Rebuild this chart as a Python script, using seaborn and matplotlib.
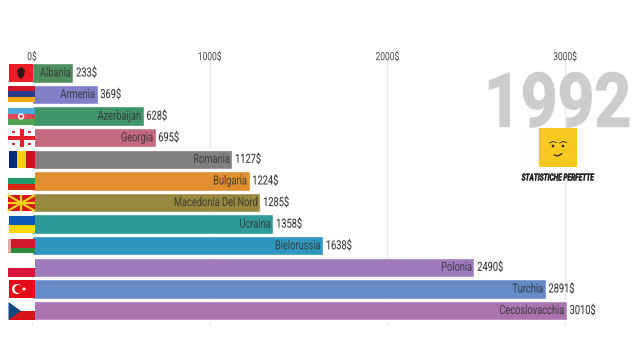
import matplotlib
matplotlib.use('Agg')
import matplotlib.pyplot as plt
from matplotlib.patches import Rectangle, Polygon, Circle
from matplotlib.patheffects import AbstractPathEffect
from matplotlib.transforms import Affine2D
import seaborn as sns
import pandas as pd

countries = ['Albania', 'Armenia', 'Azerbaijan', 'Georgia', 'Romania', 'Bulgaria',
             'Macedonia Del Nord', 'Ucraina', 'Bielorussia', 'Polonia', 'Turchia',
             'Cecoslovacchia']
gdp = [233, 369, 628, 695, 1127, 1224, 1285, 1358, 1638, 2490, 2891, 3010]
bar_colors = ['#4f8f5f', '#8080c8', '#3f9468', '#c2687f', '#808080', '#e08e30',
              '#96893f', '#2f9a9a', '#2f97bd', '#9e7bbd', '#648bc8', '#a974b0']
ticks = [0, 1000, 2000, 3000]
year = '1992'
caption = 'STATISTICHE PERFETTE'

sns.set_theme(style='white')
plt.rcParams['font.family'] = ['Roboto', 'DejaVu Sans']


# no condensed font installed, so squeeze the glyphs sideways around an anchor
class Squeeze(AbstractPathEffect):
    def __init__(self, sx, pivot, stroke=0):
        super().__init__()
        self.sx = sx
        self.pivot = pivot
        self.stroke = stroke

    def draw_path(self, renderer, gc, tpath, affine, rgbFace=None):
        squeezed = affine + Affine2D().translate(-self.pivot, 0).scale(self.sx, 1).translate(self.pivot, 0)
        gc0 = renderer.new_gc()
        gc0.copy_properties(gc)
        if self.stroke:
            gc0.set_linewidth(self.stroke)
            gc0.set_foreground(rgbFace)
        renderer.draw_path(gc0, tpath, squeezed, rgbFace)
        gc0.restore()


df = pd.DataFrame({'country': countries, 'gdp': gdp})

fig = plt.figure(figsize=(6.4, 3.6), dpi=100)
ax = fig.add_axes([32 / 640, 35 / 360, 608 / 640, 265 / 360])
sns.barplot(data=df, x='gdp', y='country', hue='country', palette=bar_colors,
            width=0.9, saturation=1, legend=False, ax=ax)

ax.set_xlim(0, 608 / 0.1777)
ax.set_ylim(11.67, -0.60)
ax.set_xlabel('')
ax.set_ylabel('')
ax.set_yticks([])
ax.set_xticks(ticks)
ax.set_xticklabels([f'{t}$' for t in ticks], fontsize=8, color='#444444')
ax.xaxis.tick_top()
ax.tick_params(axis='x', length=0, pad=-1.5)
ax.grid(axis='x', color='#e6e6e6', linewidth=0.8)
ax.set_axisbelow(True)
sns.despine(ax=ax, left=True, bottom=True, top=True, right=True)

for t, lab in zip(ticks, ax.get_xticklabels()):
    lab.set_path_effects([Squeeze(0.76, ax.transData.transform((t, 0))[0])])

# names inside the bars, values just after them
for i, (name, v) in enumerate(zip(countries, gdp)):
    end = ax.transData.transform((v, i))[0]
    ax.annotate(name, (v, i), xytext=(-1.7, 0), textcoords='offset points', ha='right',
                va='center', fontsize=9, color='#333333', alpha=0.8,
                path_effects=[Squeeze(0.74, end - 2.4, stroke=0.05)])
    ax.annotate(f'{v}$', (v, i), xytext=(2, 0), textcoords='offset points', ha='left',
                va='center', fontsize=9, color='#333333',
                path_effects=[Squeeze(0.74, end + 2.8, stroke=0.05)])

# overlay in pixel coordinates for flags, year and logo
ov = fig.add_axes([0, 0, 1, 1], facecolor='none')
ov.set_xlim(0, 640)
ov.set_ylim(360, 0)
ov.axis('off')


def bands(x0, x1, y0, y1, cols):
    h = (y1 - y0) / len(cols)
    for k, c in enumerate(cols):
        ov.add_patch(Rectangle((x0, y0 + k * h), x1 - x0, h, color=c, lw=0))


def vbands(x0, x1, y0, y1, cols):
    w = (x1 - x0) / len(cols)
    for k, c in enumerate(cols):
        ov.add_patch(Rectangle((x0 + k * w, y0), w, y1 - y0, color=c, lw=0))


# Albania
bands(9, 33, 64, 82, ['#ee1c25'])
ov.add_patch(Polygon([(21, 67), (25, 70), (24, 76), (21, 79), (18, 76), (17, 70)], color='#2a1a1a', lw=0))
# Armenia
bands(7.5, 35, 86, 102, ['#cf142b', '#2a3a8c', '#f2a800'])
# Azerbaijan
bands(7.5, 35, 108, 125, ['#4fa8d8', '#e0485a', '#4fa050'])
ov.add_patch(Circle((21, 116.5), 2.5, fill=False, ec='white', lw=1))
# Georgia
bands(8, 35, 129, 147, ['#ffffff'])
bands(8, 35, 136, 140, ['#e8202a'])
vbands(19.5, 23.5, 129, 147, ['#e8202a'])
for px, py in [(13, 132), (29, 132), (13, 144), (29, 144)]:
    ov.add_patch(Rectangle((px - 1.5, py - 1), 3, 2, color='#e8202a', lw=0))
# Romania
vbands(8.5, 35, 151, 168, ['#002b7f', '#fcd116', '#ce1126'])
# Bulgaria
bands(7.5, 35, 172, 190, ['#ffffff', '#1f9a6a', '#d62612'])
# North Macedonia
bands(7.5, 35, 195, 211, ['#d8141a'])
for a, b in [((7.5, 195), (35, 211)), ((35, 195), (7.5, 211)), ((7.5, 203), (35, 203)), ((21, 195), (21, 211))]:
    ov.plot([a[0], b[0]], [a[1], b[1]], color='#f8d020', lw=1.6, solid_capstyle='butt')
ov.add_patch(Circle((21, 203), 2.5, color='#f8d020', ec='#d8141a', lw=0.6))
# Ukraine
bands(8.5, 35, 216, 233, ['#0d57b7', '#ffd700'])
# Belarus
bands(7.5, 35, 239, 253, ['#d01c2a', '#d01c2a', '#2f8a3e'])
ov.add_patch(Rectangle((7.5, 239), 3, 14, color='#e8a8a8', lw=0))
# Poland
bands(7.5, 35, 258, 277, ['#ffffff', '#dc143c'])
# Turkey
bands(8.5, 35, 280, 298, ['#e30a17'])
ov.add_patch(Circle((17, 289), 5, color='white', lw=0))
ov.add_patch(Circle((18.5, 289), 4, color='#e30a17', lw=0))
ov.add_patch(Circle((24, 289), 1.5, color='white', lw=0))
# Czechoslovakia
bands(8.5, 35, 302, 320, ['#ffffff', '#d7141a'])
ov.add_patch(Polygon([(8.5, 302), (21, 311), (8.5, 320)], color='#11457e', lw=0))

ov.text(631, 126.5, year, ha='right', va='baseline', fontsize=54, fontweight='bold',
        color='#cccccc', path_effects=[Squeeze(0.855, 631, stroke=1.0)])

# yellow lego face
ov.add_patch(Rectangle((539, 128), 38, 39, color='#f7c81e', lw=0))
for ex in (553, 563):
    ov.add_patch(Circle((ex, 146), 1.3, color='#2a2010', lw=0))
    ov.plot([ex - 3.5, ex, ex + 3.5], [143, 141.5, 142.5], color='#2a2010', lw=0.6)
ov.plot([554, 558, 562], [155, 156, 153.5], color='#2a2010', lw=0.9)

ov.text(558, 177.5, caption, ha='center', va='center', fontsize=7, fontweight='bold',
        fontstyle='italic', color='#111111', path_effects=[Squeeze(0.68, 558, stroke=0.3)])

fig.savefig('out.png', dpi=100, facecolor='white')
